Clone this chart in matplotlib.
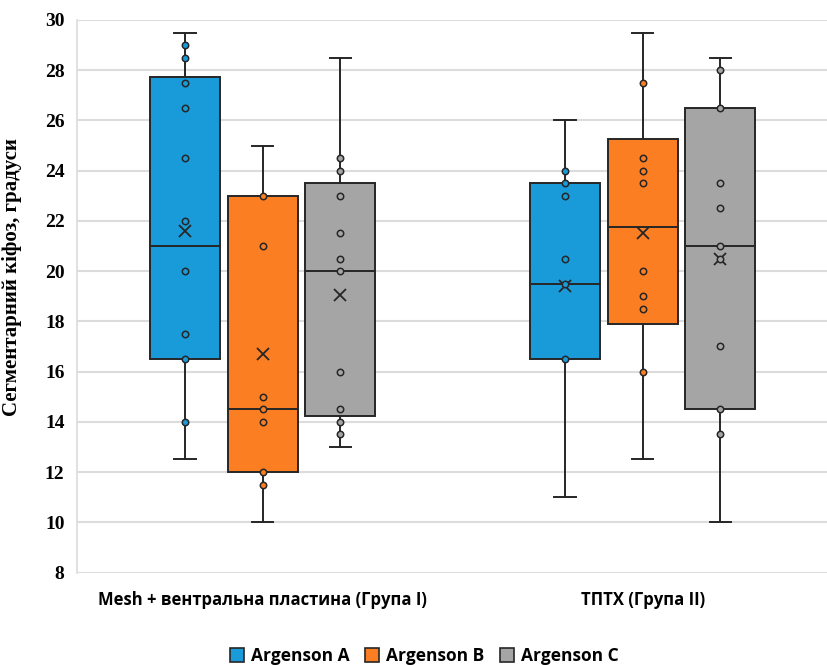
import matplotlib.pyplot as plt
from matplotlib.patches import Patch

# categories and series
groups = ['Mesh + вентральна пластина (Група I)', 'ТПТХ (Група II)']
series = ['Argenson A', 'Argenson B', 'Argenson C']

# box statistics, [series][group]
whis_lo = [[12.5, 11.0], [10.0, 12.5], [13.0, 10.0]]
q1      = [[16.5, 16.5], [12.0, 17.9], [14.25, 14.5]]
median  = [[21.0, 19.5], [14.5, 21.75], [20.0, 21.0]]
q3      = [[27.75, 23.5], [23.0, 25.25], [23.5, 26.5]]
whis_hi = [[29.5, 26.0], [25.0, 29.5], [28.5, 28.5]]
means   = [[21.6, 19.4], [16.7, 21.5], [19.05, 20.5]]

# inner points, [series][group]
points = [
    [[29, 28.5, 27.5, 26.5, 24.5, 22, 20, 17.5, 16.5, 14],
     [24, 23.5, 23, 20.5, 19.5, 16.5]],
    [[23, 21, 15, 14.5, 14, 12, 11.5],
     [27.5, 24.5, 24, 23.5, 20, 19, 18.5, 16]],
    [[24.5, 24, 23, 21.5, 20.5, 20, 16, 14.5, 14, 13.5],
     [28, 26.5, 23.5, 22.5, 21, 20.5, 17, 14.5, 13.5]],
]

colors = ['#199BDA', '#FC7E23', '#A5A5A5']
edge = '#262626'
grid_c = '#DCDCDC'

W, H = 827, 665
fig = plt.figure(figsize=(W / 100, H / 100), dpi=100)
fig.patch.set_facecolor('white')
ax = fig.add_axes([77 / W, 1 - 572.5 / H, (W - 77) / W, (572.5 - 20) / H])

offsets = [-0.2045, 0.0, 0.2045]
box_w = 0.184

for s in range(len(series)):
    stats = []
    pos = []
    for g in range(len(groups)):
        stats.append(dict(whislo=whis_lo[s][g], q1=q1[s][g], med=median[s][g],
                          q3=q3[s][g], whishi=whis_hi[s][g], mean=means[s][g],
                          fliers=[]))
        pos.append(g + offsets[s])
    ax.bxp(stats, positions=pos, widths=box_w, capwidths=0.056,
           showmeans=True, patch_artist=True, manage_ticks=False,
           boxprops=dict(facecolor=colors[s], edgecolor=edge, linewidth=1.4),
           medianprops=dict(color=edge, linewidth=1.4),
           whiskerprops=dict(color=edge, linewidth=1.4),
           capprops=dict(color=edge, linewidth=1.4),
           meanprops=dict(marker='x', markeredgecolor=edge, markersize=9,
                          markeredgewidth=1.3),
           zorder=2)
    for g in range(len(groups)):
        ax.plot([g + offsets[s]] * len(points[s][g]), points[s][g], 'o',
                ms=4.6, mfc=colors[s], mec=edge, mew=1.1, zorder=4)

ax.set_xlim((77 - 262.7) / 380, (827 - 262.7) / 380)
ax.set_ylim(8, 30)
ax.set_yticks(range(8, 31, 2))
ax.set_xticks(range(len(groups)))
ax.set_xticklabels(groups, fontfamily='Open Sans', fontweight='bold', fontsize=12)
for lbl in ax.get_yticklabels():
    lbl.set_fontfamily('Liberation Serif')
    lbl.set_fontweight('bold')
    lbl.set_fontsize(14)
ax.tick_params(axis='y', length=0, pad=9)
ax.tick_params(axis='x', length=0, pad=13)
ax.grid(axis='y', color=grid_c, linewidth=1.5, zorder=0)
ax.set_axisbelow(True)
for side in ['top', 'right', 'bottom']:
    ax.spines[side].set_visible(False)
ax.spines['left'].set_color(grid_c)
ax.spines['left'].set_linewidth(1.2)

ax.set_ylabel('Сегментарний кіфоз, градуси', fontfamily='Liberation Serif',
              fontweight='bold', fontsize=15)
ax.yaxis.set_label_coords(-0.073, 0.535)

handles = [Patch(facecolor=c, edgecolor=edge, linewidth=1.2) for c in colors]
fig.legend(handles, series, loc='center', bbox_to_anchor=(0.513, 1 - 656 / H),
           ncol=3, frameon=False, handlelength=0.8, handleheight=0.8,
           handletextpad=0.4, columnspacing=0.9, borderpad=0.1,
           prop=dict(family='Open Sans', weight='bold', size=12.5))

fig.savefig('out.png', dpi=100, facecolor='white')
